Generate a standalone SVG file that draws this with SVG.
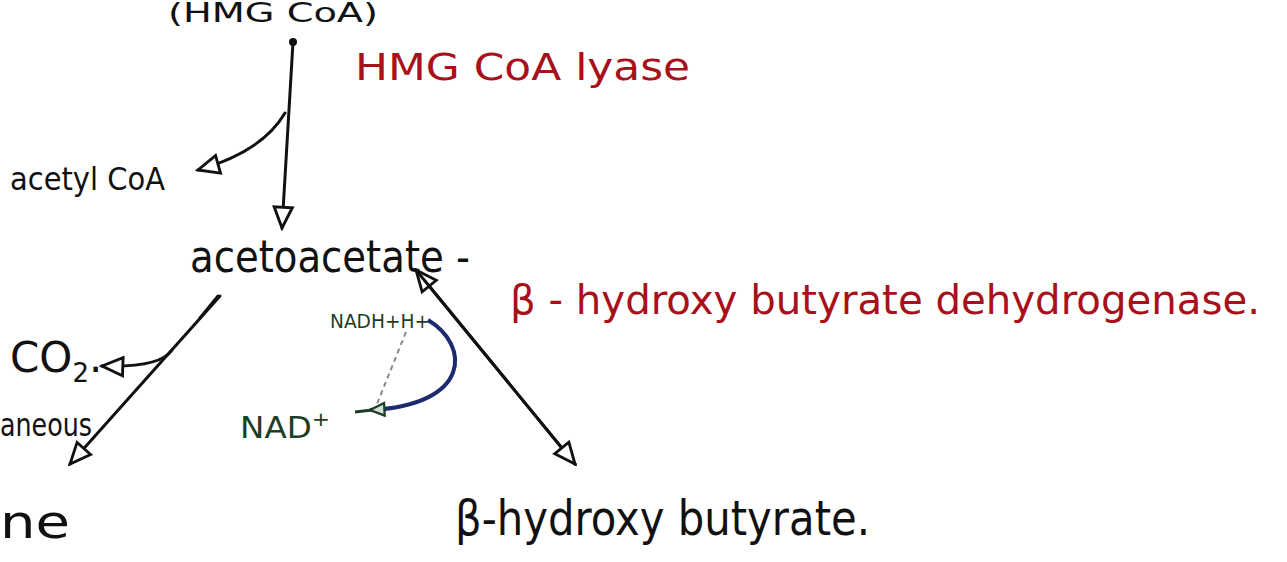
<svg xmlns="http://www.w3.org/2000/svg" width="1287" height="562" viewBox="0 0 1287 562">
<defs>
<style>
.t{font-family:"DejaVu Sans","Liberation Sans",sans-serif;fill:#111}
.red{fill:#a8101a}
.grn{fill:#1d3d26}
.ln{fill:none;stroke:#111;stroke-width:3;stroke-linecap:round}
</style>
<marker id="ahb" viewBox="0 0 20 20" refX="18" refY="10" markerWidth="26" markerHeight="26" markerUnits="userSpaceOnUse" orient="auto">
<path d="M2,3 L18,10 L2,17 Z" fill="#fff" stroke="#111" stroke-width="2.2"/>
</marker>
<marker id="ahg" viewBox="0 0 20 20" refX="18" refY="10" markerWidth="18" markerHeight="18" markerUnits="userSpaceOnUse" orient="auto">
<path d="M2,3 L18,10 L2,17 Z" fill="#cfe0d0" stroke="#1d3d26" stroke-width="2.5"/>
</marker>
</defs>
<rect width="1287" height="562" fill="#fff"/>
<g id="hmgcoa"><text class="t" x="168" y="22" font-size="26" textLength="210" lengthAdjust="spacingAndGlyphs">(HMG CoA)</text></g>
<g id="lyase"><text class="t red" x="355" y="80" font-size="38" textLength="335" lengthAdjust="spacingAndGlyphs">HMG CoA lyase</text></g>
<g id="acetylcoa"><text class="t" x="10" y="190" font-size="32" textLength="155" lengthAdjust="spacingAndGlyphs">acetyl CoA</text></g>
<g id="acetoacetate"><text class="t" x="190" y="272" font-size="44" textLength="280" lengthAdjust="spacingAndGlyphs">acetoacetate -</text></g>
<g id="dehydrogenase"><text class="t red" x="510" y="314" font-size="40" textLength="750" lengthAdjust="spacingAndGlyphs">β - hydroxy butyrate dehydrogenase.</text></g>
<g id="co2"><text class="t" x="10" y="372" font-size="42" fill="#333">CO<tspan font-size="26" dy="10">2</tspan><tspan dy="-10">.</tspan></text></g>
<g id="spontaneous"><text class="t" x="0" y="436" font-size="32" fill="#444" textLength="92" lengthAdjust="spacingAndGlyphs">aneous</text></g>
<g id="acetone"><text class="t" x="0" y="538" font-size="46" textLength="70" lengthAdjust="spacingAndGlyphs">ne</text></g>
<g id="nadh"><text class="t grn" x="330" y="328" font-size="20" textLength="100" lengthAdjust="spacingAndGlyphs">NADH+H+</text></g>
<g id="nad"><text class="t grn" x="240" y="438" font-size="30" textLength="90" lengthAdjust="spacingAndGlyphs">NAD<tspan dy="-12" font-size="20">+</tspan></text></g>
<g id="hydroxybutyrate"><text class="t" x="455" y="535" font-size="48" textLength="415" lengthAdjust="spacingAndGlyphs">β-hydroxy butyrate.</text></g>
<g id="connectors">
<circle cx="293" cy="42" r="4" fill="#111"/>
<path class="ln" d="M293,42 L282,228" marker-end="url(#ahb)"/>
<path class="ln" d="M285,113 Q262,152 198,170" marker-end="url(#ahb)"/>
<path class="ln" d="M220,296 L70,464" marker-end="url(#ahb)"/>
<path class="ln" d="M218,296 L200,318" stroke-width="7"/>
<path class="ln" d="M172,350 Q160,368 102,366" marker-end="url(#ahb)"/>
<path class="ln" d="M575,464 L416,270" marker-end="url(#ahb)"/>
<path class="ln" d="M416,270 L575,464" marker-end="url(#ahb)"/>
<path d="M406,332 L377,404" fill="none" stroke="#888" stroke-width="2" stroke-dasharray="5,4"/>
<path d="M428,320 C470,345 472,405 370,410" fill="none" stroke="#1c2a6e" stroke-width="4" marker-end="url(#ahg)"/>
<path d="M355,412 L372,410" fill="none" stroke="#1d3d26" stroke-width="3"/>
</g>
</svg>
